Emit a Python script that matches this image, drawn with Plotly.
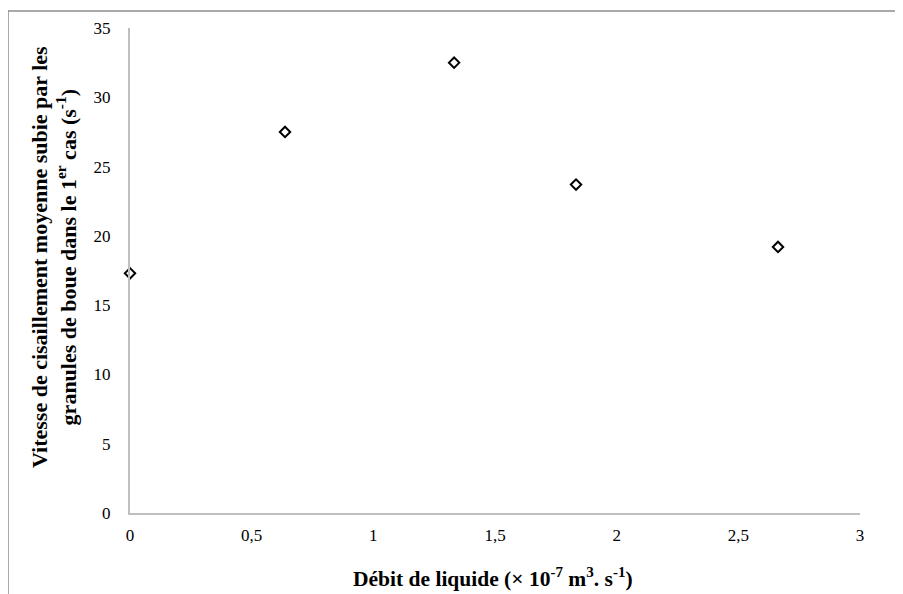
import plotly.graph_objects as go

debit = [0.0, 0.637, 1.332, 1.833, 2.663]
vitesse = [17.3, 27.5, 32.5, 23.7, 19.2]
x_ticks = [0, 0.5, 1, 1.5, 2, 2.5, 3]
x_ticklabels = ["0", "0,5", "1", "1,5", "2", "2,5", "3"]
y_ticks = [0, 5, 10, 15, 20, 25, 30, 35]

OFF = 8  # page body margin
W, H = 903 - OFF, 594 - OFF
# screen coordinates of plot area
SL, SR, ST, SB = 130, 860, 28, 513
L, T = SL - OFF, ST - OFF
R, B = W - (SR - OFF), H - (SB - OFF)
pw, ph = W - L - R, H - T - B

def px(x):
    return (x - OFF - L) / pw

def py(y):
    return (H - B - (y - OFF)) / ph

fig = go.Figure()
fig.add_trace(go.Scatter(
    x=debit, y=vitesse, mode="markers",
    marker=dict(symbol="diamond-open", size=8, color="black", line=dict(width=2, color="black")),
    showlegend=False, cliponaxis=False,
))

font_serif = "Liberation Serif, Times New Roman, serif"
border = dict(color="#8c8c8c", width=1.5)

fig.update_layout(
    width=W, height=H,
    margin=dict(l=L, r=R, t=T, b=B),
    paper_bgcolor="white", plot_bgcolor="white",
    font=dict(family=font_serif, size=17, color="black"),
    xaxis=dict(range=[0, 3], tickvals=x_ticks, ticktext=x_ticklabels,
               showgrid=False, zeroline=False, showline=True, linecolor="#bfbfbf", linewidth=2,
               ticks="", ticklabelstandoff=6, tickfont=dict(size=17, family=font_serif)),
    yaxis=dict(range=[0, 35], tickvals=y_ticks,
               showgrid=False, zeroline=False, showline=True, linecolor="#bfbfbf", linewidth=2,
               ticks="", ticklabelstandoff=14, tickfont=dict(size=17, family=font_serif)),
    shapes=[
        dict(type="line", xref="paper", yref="paper", x0=px(8), x1=px(930), y0=py(11), y1=py(11),
             line=border, layer="below"),
        dict(type="line", xref="paper", yref="paper", x0=px(8), x1=px(8), y0=py(11), y1=py(630),
             line=border, layer="below"),
    ],
    annotations=[
        dict(text="<b>Débit de liquide (× 10<sup>-7</sup> m<sup>3</sup>. s<sup>-1</sup>)</b>",
             xref="paper", yref="paper", x=px(493), y=py(577), showarrow=False,
             font=dict(size=21.5, family=font_serif), xanchor="center", yanchor="middle"),
        dict(text="<b>Vitesse de cisaillement moyenne subie par les<br>granules de boue dans le 1<sup>er</sup> cas (s<sup>-1</sup>)</b>",
             xref="paper", yref="paper", x=px(54), y=py(257), showarrow=False, textangle=-90,
             font=dict(size=22, family=font_serif), xanchor="center", yanchor="middle"),
    ],
)

fig.write_html("out.html")
